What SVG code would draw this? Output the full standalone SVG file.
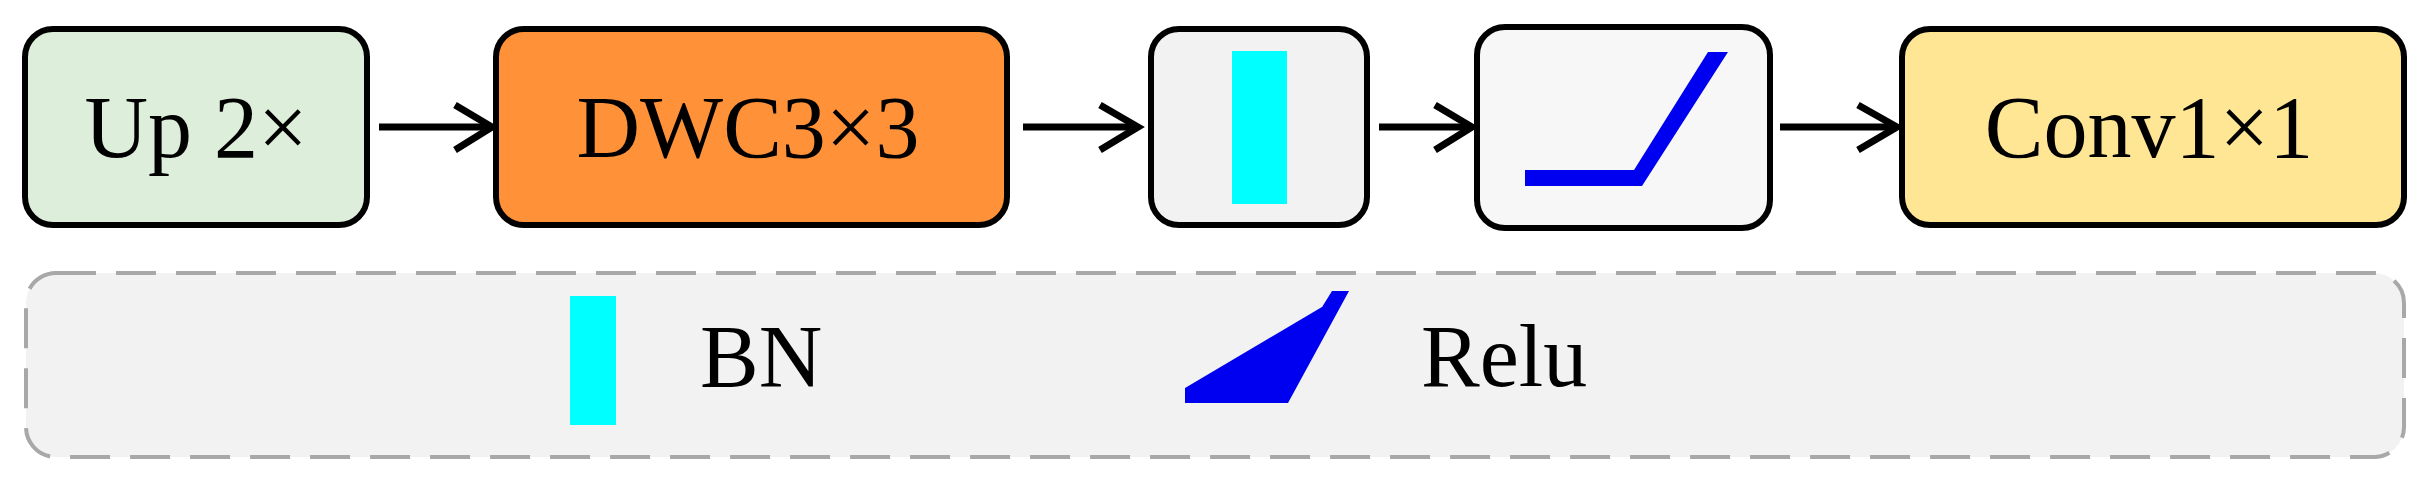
<svg xmlns="http://www.w3.org/2000/svg" width="2431" height="485" viewBox="0 0 2431 485">
<defs><style>
.box{stroke:#000;stroke-width:6}
.t{font-family:"Liberation Serif","Times New Roman",serif;font-size:88px;fill:#000;text-anchor:middle}
.lt{font-family:"Liberation Serif","Times New Roman",serif;font-size:88px;fill:#000}
.c line,.c polyline{stroke:#000;stroke-width:7;fill:none}
</style></defs>
<rect width="2431" height="485" fill="#fff"/>
<g id="legend">
<rect x="26" y="273" width="2378" height="184" rx="30" fill="#F2F2F2" stroke="#A8A8A8" stroke-width="4" stroke-dasharray="40 20"/>
<rect x="570" y="296" width="46" height="129" fill="#00FFFF"/>
<text class="lt" x="700" y="386">BN</text>
<polygon points="1185,388 1280,388 1349,291 1332,291 1272,388 1185,388 1185,403 1288,403 1349,291" fill="#0000F0"/>
<text class="lt" x="1421" y="386">Relu</text>
</g>
<g id="up"><rect class="box" x="25" y="29" width="342" height="196" rx="28" fill="#DDEFDB"/><text class="t" x="196" y="157">Up 2×</text></g>
<g id="dwc"><rect class="box" x="496" y="29" width="511" height="196" rx="28" fill="#FF9138"/><text class="t" x="748" y="157">DWC3×3</text></g>
<g id="bn"><rect class="box" x="1151" y="29" width="216" height="196" rx="28" fill="#F2F2F2"/><rect x="1232" y="51" width="55" height="153" fill="#00FFFF"/></g>
<g id="relu"><rect class="box" x="1477" y="27" width="293" height="201" rx="28" fill="#F7F7F7"/><polygon points="1525,170 1634,170 1708,52 1728,52 1642,186 1525,186" fill="#0000F0"/></g>
<g id="conv"><rect class="box" x="1902" y="29" width="502" height="196" rx="28" fill="#FEE695"/><text class="t" x="2149" y="157">Conv1×1</text></g>
<g class="c" id="connectors">
<line x1="379" y1="127" x2="492" y2="127"/><polyline points="455,105 492,127 455,150"/>
<line x1="1023" y1="127" x2="1138" y2="127"/><polyline points="1100,105 1138,127 1100,150"/>
<line x1="1379" y1="127" x2="1472" y2="127"/><polyline points="1435,105 1472,127 1435,150"/>
<line x1="1780" y1="127" x2="1897" y2="127"/><polyline points="1858,105 1897,127 1858,150"/>
</g>
</svg>
